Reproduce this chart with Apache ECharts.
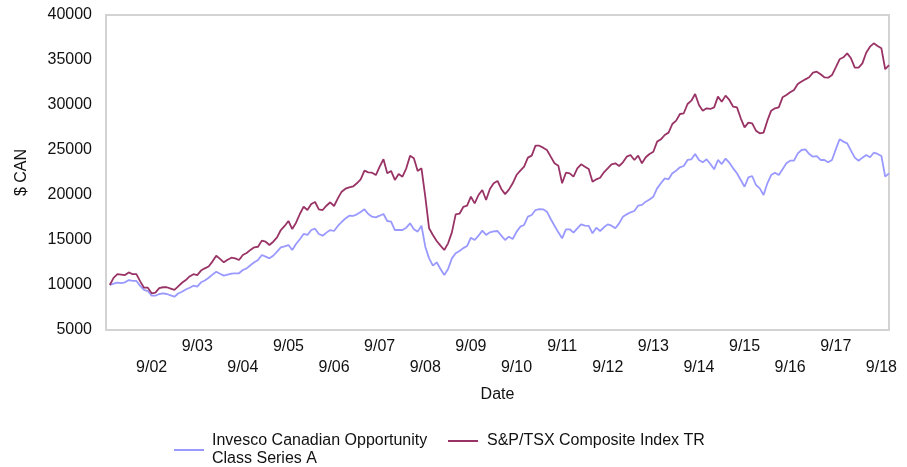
<!DOCTYPE html>
<html>
<head>
<meta charset="utf-8">
<title>Growth of $10,000</title>
<script src="https://cdn.jsdelivr.net/npm/echarts@6/dist/echarts.min.js"></script>
<style>
  html, body { margin: 0; padding: 0; background: #fff; }
  #growth_chart { width: 907px; height: 467px; }
</style>
</head>
<body>
<div id="growth_chart"></div>
<script>
// Data
// ------------------------------

// monthly categories, 9/01 .. 11/18 (first one has no value)
var startYear = 2001;
var startMonth = 9;
var monthCount = 207;

var seriesNames = ["Invesco Canadian Opportunity Class Series A", "S&P/TSX Composite Index TR"];

// month-end values from 10/01 to 11/18
var invescoValues = [
  10000, 10150, 10260, 10200, 10300, 10550, 10450, 10450, 9900, 9450,
  9330, 8810, 8810, 9000, 9080, 9000, 8850, 8700, 9050, 9250,
  9500, 9700, 9920, 9810, 10300, 10500, 10800, 11150, 11480, 11250,
  11040, 11150, 11260, 11300, 11300, 11670, 11850, 12200, 12520, 12780,
  13330, 13150, 12960, 13250, 13700, 14190, 14300, 14440, 13890, 14560,
  15080, 15670, 15560, 16110, 16260, 15670, 15480, 15820, 16110, 16000,
  16560, 17000, 17400, 17700, 17670, 17850, 18100, 18410, 17890, 17590,
  17520, 17700, 17890, 17110, 17040, 16110, 16110, 16110, 16370, 16850,
  16190, 15930, 16590, 14260, 12960, 12150, 12520, 11780, 11110, 11780,
  12960, 13520, 13780, 14100, 14330, 15260, 15000, 15480, 16040, 15560,
  15850, 15950, 16000, 15480, 15000, 15370, 15110, 15900, 16480, 16670,
  17590, 17780, 18330, 18440, 18410, 18150, 17330, 16590, 15850, 15190,
  16190, 16190, 15820, 16300, 16740, 16590, 16560, 15740, 16370, 16000,
  16410, 16740, 16590, 16300, 16850, 17590, 17850, 18080, 18220, 18810,
  18900, 19260, 19500, 19810, 20740, 21300, 21850, 21740, 22410, 22700,
  23080, 23220, 23890, 23970, 24560, 23890, 23630, 23970, 23440, 22850,
  23890, 23440, 24040, 23590, 22960, 22410, 21670, 20920, 21960, 22110,
  21110, 20740, 20000, 21300, 22220, 22480, 22220, 22850, 23520, 23810,
  23810, 24630, 25000, 25070, 24560, 24260, 24330, 23890, 23890, 23630,
  23890, 25070, 26190, 25930, 25740, 24930, 24150, 23810, 24150, 24440,
  24190, 24700, 24560, 24330, 22040, 22410
];

var tsxValues = [
  10000, 10800, 11200, 11150, 11100, 11400, 11200, 11200, 10400, 9700,
  9700, 9080, 9150, 9650, 9750, 9750, 9600, 9450, 9850, 10250,
  10550, 10950, 11200, 11100, 11600, 11850, 12050, 12600, 13250, 12900,
  12520, 12800, 13030, 12960, 12780, 13330, 13550, 13900, 14190, 14250,
  14930, 14810, 14440, 14810, 15300, 16110, 16560, 17110, 16220, 16920,
  17890, 18700, 18330, 19000, 19220, 18410, 18330, 18810, 19190, 18780,
  19630, 20370, 20700, 20850, 20950, 21300, 21740, 22700, 22520, 22480,
  22220, 23150, 23970, 22410, 22670, 21670, 22330, 22040, 22960, 24370,
  24080, 22670, 22960, 19810, 16300, 15560, 14890, 14370, 13890, 14630,
  15850, 17850, 17920, 18670, 18810, 19810, 19070, 20000, 20560, 19440,
  20670, 21300, 21560, 20670, 20100, 20600, 21300, 22220, 22700, 23150,
  24150, 24370, 25480, 25480, 25260, 25000, 24260, 23520, 23260, 21300,
  22480, 22410, 22040, 22960, 23410, 23150, 22890, 21480, 21740, 21920,
  22520, 22950, 23410, 23520, 23220, 23630, 24260, 24440, 23890, 24370,
  23520, 24190, 24560, 24810, 25930, 26190, 26670, 26930, 27890, 28260,
  29000, 29080, 30110, 30480, 31220, 30000, 29370, 29630, 29560, 29740,
  30930, 30370, 31040, 30560, 29810, 29740, 28520, 27520, 28040, 27960,
  27150, 26850, 26930, 28260, 29370, 29630, 29740, 30850, 31110, 31410,
  31670, 32330, 32600, 32850, 33080, 33590, 33700, 33410, 33080, 33030,
  33330, 34190, 35080, 35300, 35740, 35190, 34150, 34150, 34630, 35810,
  36480, 36850, 36560, 36300, 33970, 34440
];

var yTicks = { min: 5000, max: 40000, step: 5000 };

// Build month labels like "9/02"
var months = [];
for (var i = 0; i < monthCount; i++) {
  var m = (startMonth - 1 + i) % 12 + 1;
  var y = startYear + Math.floor((startMonth - 1 + i) / 12);
  months.push(m + "/" + String(y).slice(2));
}

function toPairs(values) {
  return values.map(function (v, idx) {
    return [months[idx + 1], v];
  });
}

// Chart
// ------------------------------

var fontFamily = "'Liberation Sans', Arial, sans-serif";
var textColor = "#111";

var chart = echarts.init(document.getElementById("growth_chart"), null, { renderer: "canvas" });

chart.setOption({
  animation: false,
  color: ["#9999ff", "#993366"],
  textStyle: { fontFamily: fontFamily, color: textColor },

  grid: {
    left: 106,
    right: 18,
    top: 15,
    bottom: 137,
    show: true,
    borderColor: "#d3d3d3",
    borderWidth: 2,
    containLabel: false
  },

  // two legends so each icon sits at the middle of its own text block
  legend: [
    {
      data: [seriesNames[0]],
      left: 174,
      top: 432,
      padding: 0,
      icon: "rect",
      itemWidth: 30,
      itemHeight: 2,
      formatter: function () {
        return "Invesco Canadian Opportunity\nClass Series A";
      },
      textStyle: { fontSize: 16, lineHeight: 18, color: textColor, fontFamily: fontFamily, padding: [0, 0, 0, 3] }
    },
    {
      data: [seriesNames[1]],
      left: 448,
      top: 432,
      padding: 0,
      icon: "rect",
      itemWidth: 30,
      itemHeight: 2,
      textStyle: { fontSize: 16, lineHeight: 18, color: textColor, fontFamily: fontFamily, padding: [0, 0, 0, 4] }
    }
  ],

  xAxis: {
    type: "category",
    data: months,
    boundaryGap: false,
    name: "Date",
    nameLocation: "middle",
    nameGap: 57,
    nameTextStyle: { fontSize: 16, color: textColor, fontFamily: fontFamily },
    axisLine: { show: false },
    axisTick: { show: false },
    splitLine: { show: false },
    axisLabel: {
      interval: function (index, value) {
        return index >= 12 && value.indexOf("9/") === 0;
      },
      formatter: function (value) {
        var yy = parseInt(value.split("/")[1], 10);
        return yy % 2 === 0 ? "\n" + value : value;
      },
      fontSize: 16,
      lineHeight: 21,
      margin: 6,
      color: textColor,
      fontFamily: fontFamily
    }
  },

  yAxis: {
    type: "value",
    min: yTicks.min,
    max: yTicks.max,
    interval: yTicks.step,
    name: "$ CAN",
    nameLocation: "middle",
    nameRotate: 90,
    nameGap: 76,
    nameTextStyle: { fontSize: 16, color: textColor, fontFamily: fontFamily },
    axisLine: { show: false },
    axisTick: { show: false },
    splitLine: { show: false },
    axisLabel: {
      fontSize: 16,
      margin: 14,
      color: textColor,
      fontFamily: fontFamily,
      formatter: function (v) { return String(v); }
    }
  },

  series: [
    {
      name: seriesNames[0],
      type: "line",
      symbol: "none",
      lineStyle: { width: 1.8, color: "#9999ff" },
      data: toPairs(invescoValues)
    },
    {
      name: seriesNames[1],
      type: "line",
      symbol: "none",
      lineStyle: { width: 1.8, color: "#993366" },
      data: toPairs(tsxValues)
    }
  ]
});
</script>
</body>
</html>
